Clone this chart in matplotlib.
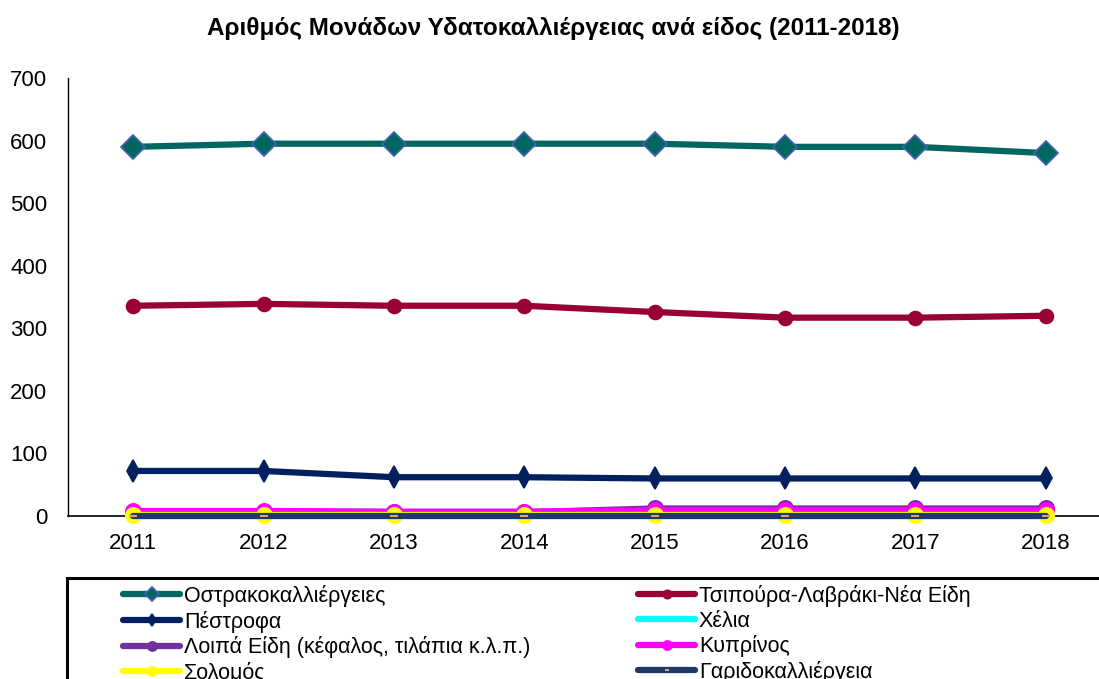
import matplotlib
matplotlib.use("Agg")
import matplotlib.pyplot as plt
from matplotlib.patches import Rectangle

plt.rcParams['font.family'] = ['Liberation Sans', 'DejaVu Sans']

years = ['2011', '2012', '2013', '2014', '2015', '2016', '2017', '2018']
ostrakokalliergeies = [590, 595, 595, 595, 595, 590, 590, 580]
tsipoura = [336, 339, 336, 336, 326, 317, 317, 320]
pestrofa = [72, 72, 62, 62, 60, 60, 60, 60]
xelia = [7, 7, 7, 7, 7, 7, 7, 7]
loipa = [6, 6, 6, 6, 12, 12, 12, 12]
kyprinos = [8, 8, 7, 7, 9, 9, 9, 9]
solomos = [2, 2, 2, 2, 2, 2, 2, 2]
garides = [0, 0, 0, 0, 0, 0, 0, 0]

series = [
    ('Οστρακοκαλλιέργειες', ostrakokalliergeies, '#006660', 'D', 12, '#4060B0'),
    ('Τσιπούρα-Λαβράκι-Νέα Είδη', tsipoura, '#990033', 'o', 10, '#990033'),
    ('Πέστροφα', pestrofa, '#002060', 'd', 11, '#002060'),
    ('Χέλια', xelia, '#00FFFF', None, 0, '#00FFFF'),
    ('Λοιπά Είδη (κέφαλος, τιλάπια κ.λ.π.)', loipa, '#7030A0', 'o', 11, '#7030A0'),
    ('Κυπρίνος', kyprinos, '#FF00FF', 'o', 11, '#FF00FF'),
    ('Σολομός', solomos, '#FFFF00', 'o', 11, '#FFFF00'),
    ('Γαριδοκαλλιέργεια', garides, '#1F3864', '_', 6, '#D9A080'),
]

fig = plt.figure(figsize=(10.99, 6.79), dpi=100)
ax = fig.add_axes([68/1099, 1-516/679, (1111-68)/1099, (516-78)/679])

x = list(range(len(years)))
handles = {}
for name, vals, col, mk, ms, mec in series:
    ln, = ax.plot(x, vals, color=col, lw=4.5, marker=mk if mk else None,
                  markersize=ms, markerfacecolor=col, markeredgecolor=mec,
                  markeredgewidth=1.2 if mk != '_' else 1.5,
                  solid_capstyle='round', label=name, clip_on=False)
    handles[name] = ln

ax.set_xlim(-0.5, 7.5)
ax.set_ylim(0, 700)
ax.set_yticks(range(0, 701, 100))
ax.set_xticks(x)
ax.set_xticklabels(years)
ax.tick_params(axis='both', length=0, labelsize=16)
ax.tick_params(axis='y', pad=15)
ax.tick_params(axis='x', pad=12)
for s in ['top', 'right']:
    ax.spines[s].set_visible(False)
ax.spines['left'].set_color('#000000')
ax.spines['bottom'].set_color('#000000')
ax.spines['bottom'].set_linewidth(1.2)
ax.spines['left'].set_linewidth(1.0)
ax.spines['bottom'].set_zorder(1)

fig.text(553/1099, 1-28/679, 'Αριθμός Μονάδων Υδατοκαλλιέργειας ανά είδος (2011-2018)',
         ha='center', va='center', fontsize=17.5, fontweight='bold')

# Legend frame (extends beyond figure)
fig.patches.append(Rectangle((67/1099, -0.05), 1.1, (1-578/679)+0.05,
                             transform=fig.transFigure, fill=False,
                             edgecolor='black', linewidth=2.2))

names = [s[0] for s in series]
col1 = [names[0], names[2], names[4], names[6]]
col2 = [names[1], names[3], names[5], names[7]]
legkw = dict(loc='upper left', frameon=False, fontsize=15.5, handlelength=2.65,
             handletextpad=0.18, labelspacing=0.17, borderpad=0, borderaxespad=0,
             markerscale=0.6)
leg1 = fig.legend(handles=[handles[n] for n in col1], labels=col1,
                  bbox_to_anchor=(123/1099, 1-585/679), **legkw)
leg2 = fig.legend(handles=[handles[n] for n in col2], labels=col2,
                  bbox_to_anchor=(638/1099, 1-585/679), **legkw)

fig.savefig('out.png', dpi=100)
